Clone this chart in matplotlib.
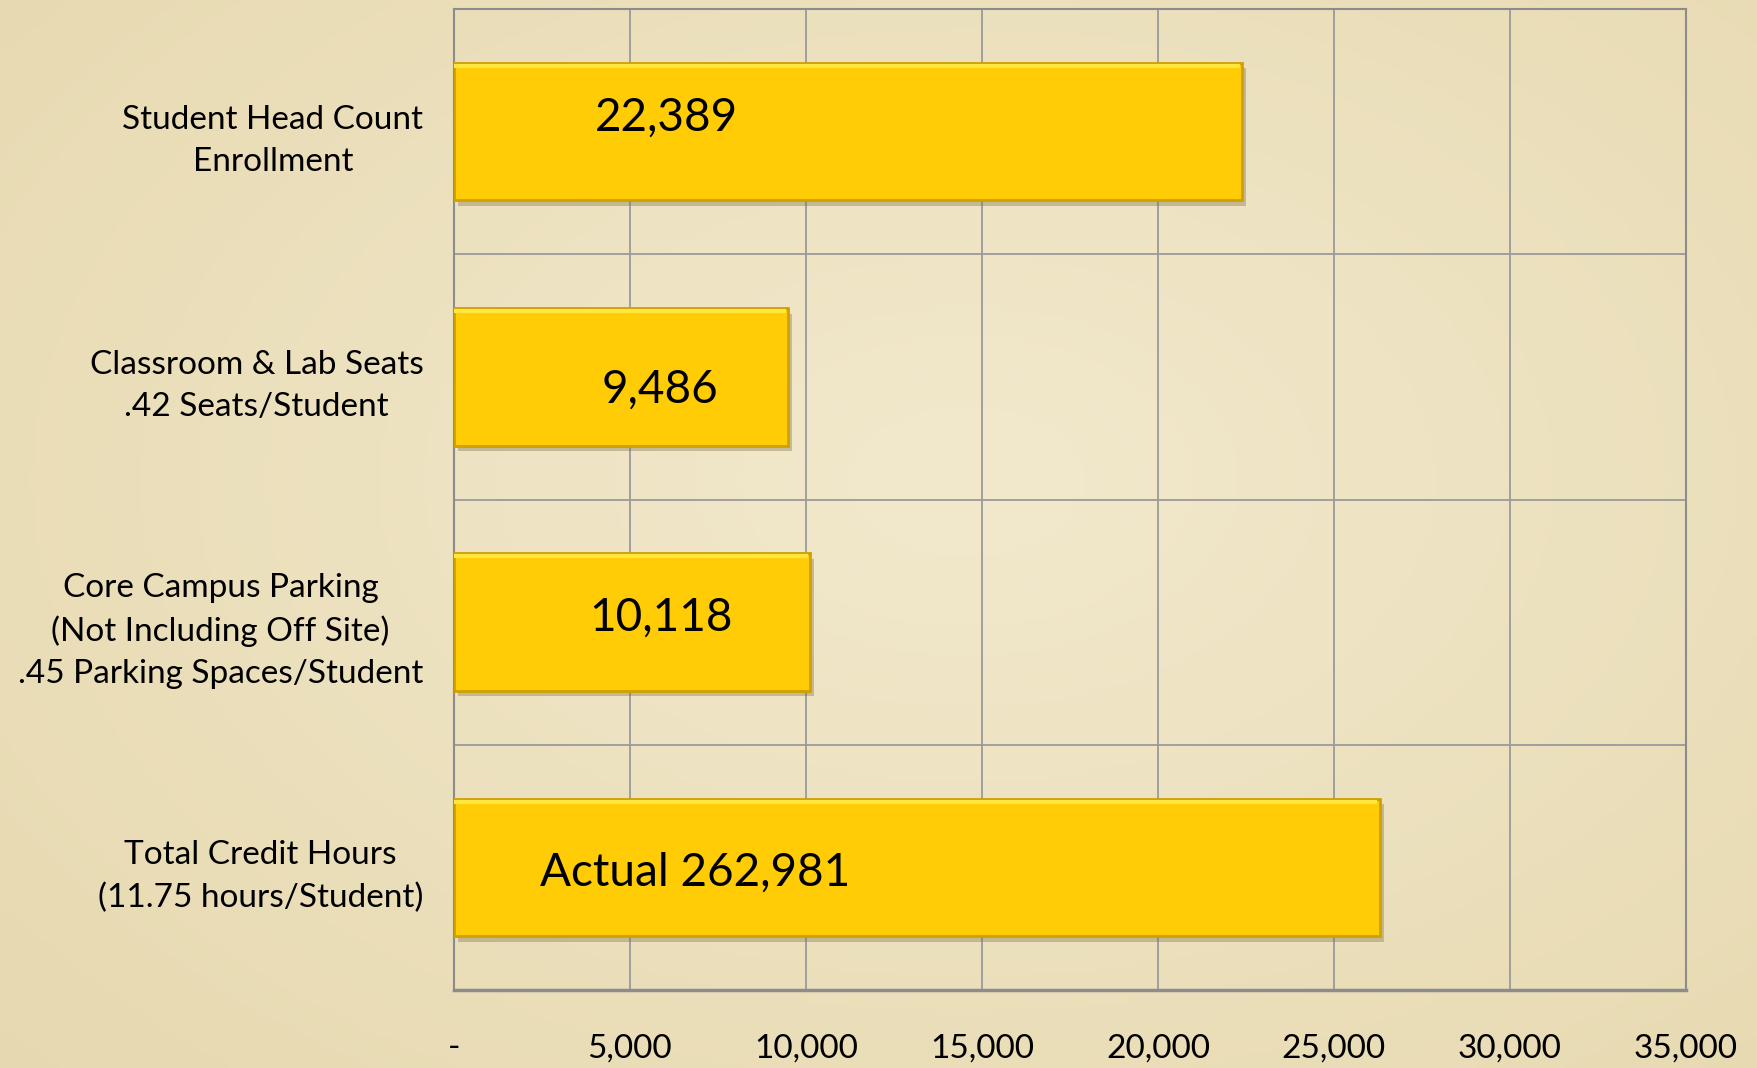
import matplotlib.pyplot as plt
import matplotlib.patheffects as pe
import numpy as np

# 类别名称（自上而下）
categories = ['Student Head Count\nEnrollment',
              'Classroom & Lab Seats\n.42 Seats/Student',
              'Core Campus Parking\n(Not Including Off Site)\n.45 Parking Spaces/Student',
              'Total Credit Hours\n(11.75 hours/Student)']
# 条形长度（学分小时按1/10绘制）
values = [22389, 9486, 10118, 26298]
bar_labels = ['22,389', '9,486', '10,118', 'Actual 262,981']
xticks = [0, 5000, 10000, 15000, 20000, 25000, 30000, 35000]
xtick_labels = ['-', '5,000', '10,000', '15,000', '20,000', '25,000', '30,000', '35,000']

# 数据标签位置（手工放置）
label_x = [6050, 5860, 5890, 6850]
label_dy = [0.057, -0.053, 0.02, -0.023]

font = ['Lato', 'DejaVu Sans']
plt.rcParams['font.family'] = font

fig = plt.figure(figsize=(17.58, 10.68), dpi=100)

# 背景：羊皮纸色渐变
bg = fig.add_axes([0, 0, 1, 1], zorder=-10)
yy, xx = np.mgrid[0:1:200j, 0:1:300j]
r = np.sqrt(((xx - 0.55) / 0.8) ** 2 + ((yy - 0.45) / 0.85) ** 2)
r = np.clip(r, 0, 1)
c_in = np.array([242, 233, 205]) / 255.0
c_out = np.array([230, 216, 174]) / 255.0
img = c_in[None, None, :] * (1 - r[..., None]) + c_out[None, None, :] * r[..., None]
bg.imshow(img, aspect='auto', extent=[0, 1, 0, 1])
bg.axis('off')

ax = fig.add_axes([0.2582, 0.0730, 0.7008, 0.9186])
ax.patch.set_alpha(0)

y = np.arange(len(categories))[::-1]
bar_h = 0.56
bars = ax.barh(y, values, height=bar_h, color='#FFCC05', edgecolor='#CFA000',
               linewidth=2, zorder=3)
for b in bars:
    b.set_path_effects([pe.SimplePatchShadow(offset=(3, -4), shadow_rgbFace='#7a6a40', alpha=0.35),
                        pe.Normal()])
# 顶部高光
ax.hlines(y + bar_h / 2 - 0.012, 0, np.array(values) - 60, color='#FFE640', linewidth=3, zorder=4)

for i in range(len(values)):
    ax.text(label_x[i], y[i] + label_dy[i], bar_labels[i], ha='center', va='center',
            fontsize=33, color='black', zorder=5)

ax.set_xlim(0, 35000)
ax.set_ylim(-0.5, 3.5)
ax.set_xticks(xticks)
ax.set_xticklabels(xtick_labels, fontsize=24)
ax.set_yticks(y)
ax.set_yticklabels(categories, fontsize=24, multialignment='center', linespacing=1.5)
ax.set_yticks([0.5, 1.5, 2.5], minor=True)
ax.tick_params(axis='both', which='both', length=0)
ax.tick_params(axis='x', pad=31)
ax.tick_params(axis='y', pad=22)

ax.grid(True, axis='x', which='major', color='#9A9A9A', linewidth=1.3, zorder=1)
ax.grid(True, axis='y', which='minor', color='#9A9A9A', linewidth=1.3, zorder=1)
for s in ax.spines.values():
    s.set_color('#8C8C8C')
    s.set_linewidth(1.5)
ax.spines['bottom'].set_linewidth(2.5)
ax.set_axisbelow(True)

fig.savefig('out.png', dpi=100)
